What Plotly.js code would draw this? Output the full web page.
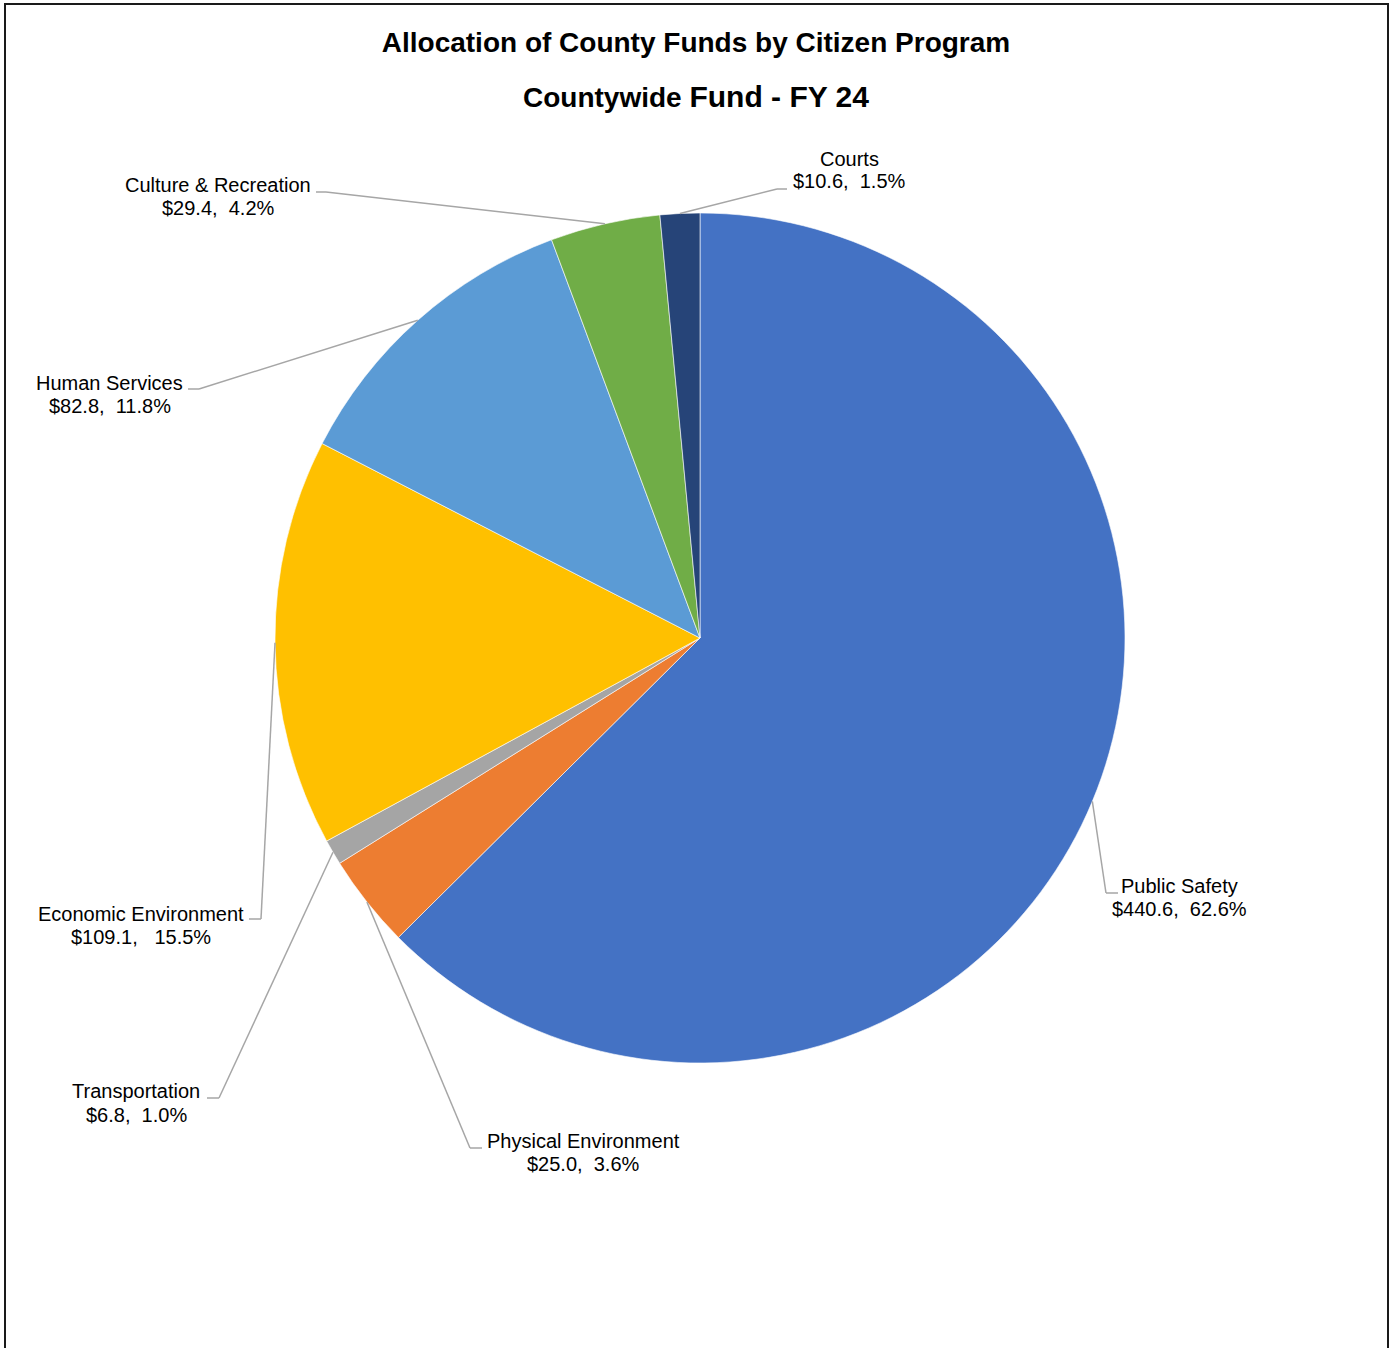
<!DOCTYPE html>
<html>
<head>
<meta charset="utf-8">
<script src="https://cdn.plot.ly/plotly-3.0.1.min.js"></script>
<style>
  html, body { margin: 0; padding: 0; background: #ffffff; }
  #wrap { position: relative; width: 1390px; height: 1348px; overflow: hidden; }
  #frame { position: absolute; left: 4px; top: 3px; width: 1381px; height: 1400px;
           border: 2px solid #1a1a1a; box-sizing: content-box; pointer-events: none; }
  #chart { position: absolute; left: 0; top: 0; width: 1390px; height: 1348px; }
</style>
</head>
<body>
<div id="wrap">
  <div id="chart"></div>
  <div id="frame"></div>
</div>
<script>
// ---- Data ----
const programs = ["Public Safety", "Physical Environment", "Transportation",
                  "Economic Environment", "Human Services", "Culture & Recreation", "Courts"];
const amounts = [440.6, 25.0, 6.8, 109.1, 82.8, 29.4, 10.6];
const percents = ["62.6", "3.6", "1.0", "15.5", "11.8", "4.2", "1.5"];
const sliceColors = ["#4472C4", "#ED7D31", "#A5A5A5", "#FFC000", "#5B9BD5", "#70AD47", "#264478"];
const titleLine1 = "Allocation of County Funds by Citizen Program";
const titleLine2a = "Countywide";
const titleLine2b = "Fund - FY 24";

// ---- Layout constants (pixels) ----
const W = 1390, H = 1348;
const PIE = { cx: 700, cy: 638, r: 425 };
// label centre positions: [x, line1 y, line2 y]
const labelPos = [
  [1179, 886, 909],
  [583, 1141, 1164],
  [136, 1091, 1115],
  [141, 914, 937],
  [110, 383, 406],
  [218, 185, 208],
  [849, 159, 181]
];
// leader elbow: [corner x, corner y, end x]
const elbows = [
  [1106, 893, 1118],
  [470, 1148, 482],
  [219, 1098, 207],
  [261, 919, 249],
  [199, 389, 188],
  [326, 192, 316],
  [777, 189, 787]
];
const spacing = ["\u00a0\u00a0", "\u00a0\u00a0", "\u00a0\u00a0", "\u00a0\u00a0\u00a0", "\u00a0\u00a0", "\u00a0\u00a0", "\u00a0\u00a0"];

const px = x => x / W;
const py = y => 1 - y / H;

const trace = {
  type: "pie",
  labels: programs,
  values: amounts,
  sort: false,
  direction: "clockwise",
  rotation: 0,
  textinfo: "none",
  hoverinfo: "label+value+percent",
  marker: { colors: sliceColors, line: { color: "#ffffff", width: 0.6 } },
  domain: {
    x: [px(PIE.cx - PIE.r), px(PIE.cx + PIE.r)],
    y: [py(PIE.cy + PIE.r), py(PIE.cy - PIE.r)]
  },
  showlegend: false
};

// Leader lines anchored at each slice's mid-angle on the rim
const total = amounts.reduce((a, b) => a + b, 0);
const shapes = [];
const annotations = [];
let cum = 0;
const labelFont = { family: "Liberation Sans, Arial, sans-serif", size: 20, color: "#000000" };
amounts.forEach((v, i) => {
  const mid = (cum + v / 2) / total;
  cum += v;
  const ang = 2 * Math.PI * mid;
  const sx = PIE.cx + PIE.r * Math.sin(ang);
  const sy = PIE.cy - PIE.r * Math.cos(ang);
  const e = elbows[i];
  const lineStyle = { color: "#A6A6A6", width: 1.5 };
  shapes.push({ type: "line", xref: "paper", yref: "paper",
    x0: px(sx), y0: py(sy), x1: px(e[0]), y1: py(e[1]), line: lineStyle });
  shapes.push({ type: "line", xref: "paper", yref: "paper",
    x0: px(e[0]), y0: py(e[1]), x1: px(e[2]), y1: py(e[1]), line: lineStyle });
  const lp = labelPos[i];
  annotations.push({ xref: "paper", yref: "paper", x: px(lp[0]), y: py(lp[1]),
    xanchor: "center", yanchor: "middle", showarrow: false,
    text: programs[i], font: labelFont });
  annotations.push({ xref: "paper", yref: "paper", x: px(lp[0]), y: py(lp[2]),
    xanchor: "center", yanchor: "middle", showarrow: false,
    text: "$" + v.toFixed(1) + "," + spacing[i] + percents[i] + "%", font: labelFont });
});

annotations.push({
  xref: "paper", yref: "paper", x: px(696), y: py(96), xanchor: "center", yanchor: "middle",
  showarrow: false,
  text: titleLine2a + " <span style=\"font-size:30px\">" + titleLine2b + "</span>",
  font: { family: "Liberation Sans, Arial, sans-serif", size: 28, color: "#000000", weight: "bold" }
});

const layout = {
  width: W, height: H,
  margin: { l: 0, r: 0, t: 0, b: 0 },
  paper_bgcolor: "rgba(0,0,0,0)",
  plot_bgcolor: "rgba(0,0,0,0)",
  title: {
    text: titleLine1,
    x: px(696), xanchor: "center",
    y: py(42), yanchor: "middle", xref: "paper", yref: "paper",
    font: { family: "Liberation Sans, Arial, sans-serif", size: 28, color: "#000000", weight: "bold" }
  },
  shapes: shapes,
  annotations: annotations
};

Plotly.newPlot("chart", [trace], layout, { displayModeBar: false, staticPlot: true });
</script>
</body>
</html>
